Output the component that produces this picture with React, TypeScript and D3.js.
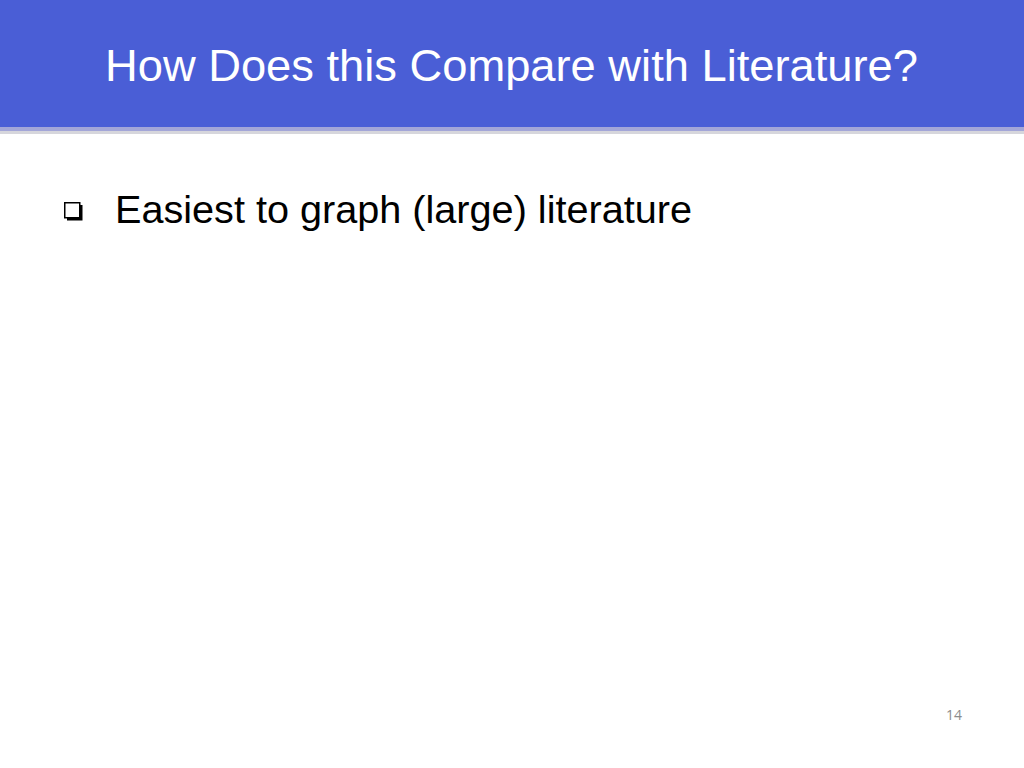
import React, { useEffect, useRef } from 'react';
import * as d3 from 'd3';

// Slide content
const titleLines: string[] = ['How Does this Compare with Literature?'];
const bulletItems: string[] = ['Easiest to graph (large) literature'];
const pageNumbers: string[] = ['14'];

const W = 1024;
const H = 768;

const App: React.FC = () => {
  const svgRef = useRef<SVGSVGElement>(null);

  useEffect(() => {
    if (!svgRef.current) return;
    const svg = d3.select(svgRef.current);
    svg.selectAll('*').remove();

    svg.append('rect').attr('width', W).attr('height', H).attr('fill', '#ffffff');

    // Header band
    svg.append('rect')
      .attr('x', 0).attr('y', 131).attr('width', W).attr('height', 3)
      .attr('fill', '#d6d6dc');
    svg.append('rect')
      .attr('x', 0).attr('y', 127).attr('width', W).attr('height', 4)
      .attr('fill', '#a3a6d8');
    svg.append('rect')
      .attr('x', 0).attr('y', 0).attr('width', W).attr('height', 127)
      .attr('fill', '#4a5ed6');

    svg.append('g')
      .selectAll('text')
      .data(titleLines)
      .enter().append('text')
      .attr('x', 105)
      .attr('y', (d, i) => 81 + i * 50)
      .attr('font-family', '"Liberation Sans", Arial, sans-serif')
      .attr('font-size', 45)
      .attr('textLength', 813)
      .attr('lengthAdjust', 'spacingAndGlyphs')
      .attr('fill', '#ffffff')
      .text(d => d);

    // Bullets
    const rows = svg.append('g')
      .selectAll('g')
      .data(bulletItems)
      .enter().append('g')
      .attr('transform', (d, i) => `translate(0,${i * 50})`);

    rows.append('rect')
      .attr('x', 67).attr('y', 205).attr('width', 15.5).attr('height', 15.5)
      .attr('fill', '#000000');
    rows.append('rect')
      .attr('x', 64.75).attr('y', 202.75).attr('width', 15).attr('height', 15)
      .attr('fill', '#ffffff')
      .attr('stroke', '#000000')
      .attr('stroke-width', 1.5);

    rows.append('text')
      .attr('x', 115)
      .attr('y', 222.5)
      .attr('font-family', '"Liberation Sans", Arial, sans-serif')
      .attr('font-size', 38)
      .attr('textLength', 577)
      .attr('lengthAdjust', 'spacingAndGlyphs')
      .attr('fill', '#000000')
      .text(d => d);

    // Page number
    svg.append('text')
      .datum(pageNumbers[0])
      .attr('x', 954)
      .attr('y', 720)
      .attr('text-anchor', 'middle')
      .attr('font-family', '"Open Sans", sans-serif')
      .attr('font-size', 14)
      .attr('fill', '#8c8c8c')
      .text(d => d);
  }, []);

  return (
    <svg
      ref={svgRef}
      width={W}
      height={H}
      style={{ position: 'absolute', left: 0, top: 0, display: 'block' }}
    />
  );
};

export default App;
